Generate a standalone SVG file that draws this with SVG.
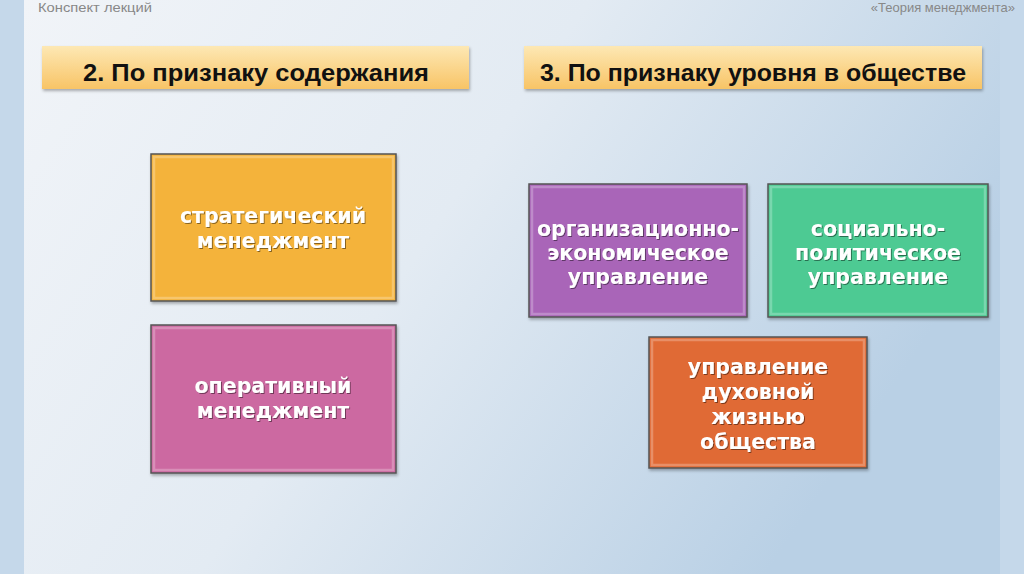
<svg xmlns="http://www.w3.org/2000/svg" width="1024" height="574" viewBox="0 0 1024 574">
<defs>
<linearGradient id="bg" x1="0" y1="0" x2="1" y2="0.4">
<stop offset="0" stop-color="#f1f4f8"/>
<stop offset="0.5" stop-color="#e3ebf3"/>
<stop offset="1" stop-color="#b9d0e5"/>
</linearGradient>
<linearGradient id="hdr" x1="0" y1="0" x2="0" y2="1">
<stop offset="0" stop-color="#fde8b4"/>
<stop offset="1" stop-color="#f8c466"/>
</linearGradient>
<filter id="sh" x="-10%" y="-10%" width="120%" height="130%">
<feDropShadow dx="1" dy="2" stdDeviation="1.5" flood-color="#000" flood-opacity="0.3"/>
</filter>
<filter id="tsh" x="-10%" y="-20%" width="120%" height="150%">
<feDropShadow dx="1" dy="1" stdDeviation="0.6" flood-color="#000" flood-opacity="0.45"/>
</filter>
</defs>
<style>
.box{stroke:#555;stroke-width:1.5;filter:url(#sh)}
.bev{fill:none;stroke:#fff;stroke-opacity:0.25;stroke-width:2.5}
.lbl{font-family:"DejaVu Sans",Verdana,sans-serif;font-weight:bold;font-size:20.5px;fill:#fff;text-anchor:middle;filter:url(#tsh)}
.hd{font-family:"Liberation Sans",Arial,sans-serif;font-weight:bold;font-size:24px;fill:#111;text-anchor:middle}
.top{font-family:"Liberation Sans",Arial,sans-serif;font-size:13px;fill:#888}
</style>
<rect x="0" y="0" width="1024" height="574" fill="#c5d8ea"/>
<rect x="24" y="0" width="976" height="574" fill="url(#bg)"/>
<text class="top" x="38" y="12" textLength="114" lengthAdjust="spacingAndGlyphs">Конспект лекций</text>
<text class="top" x="1015" y="12" text-anchor="end">«Теория менеджмента»</text>
<g id="header1">
<rect x="42" y="46" width="427" height="43" fill="url(#hdr)" filter="url(#sh)"/>
<text class="hd" x="256" y="81" textLength="346" lengthAdjust="spacingAndGlyphs">2. По признаку содержания</text>
</g>
<g id="header2">
<rect x="524" y="46" width="458" height="43" fill="url(#hdr)" filter="url(#sh)"/>
<text class="hd" x="753" y="81" textLength="426" lengthAdjust="spacingAndGlyphs">3. По признаку уровня в обществе</text>
</g>
<g id="strategic">
<rect class="box" x="151" y="154" width="245" height="147" fill="#f4b33a"/>
<rect class="bev" x="154" y="157" width="239" height="141"/>
<text class="lbl" x="273" y="223">стратегический</text>
<text class="lbl" x="273" y="248">менеджмент</text>
</g>
<g id="operative">
<rect class="box" x="151" y="325" width="245" height="148" fill="#cc69a1"/>
<rect class="bev" x="154" y="328" width="239" height="142"/>
<text class="lbl" x="273" y="393">оперативный</text>
<text class="lbl" x="273" y="418">менеджмент</text>
</g>
<g id="org-econ">
<rect class="box" x="529" y="184" width="218" height="133" fill="#a965b8"/>
<rect class="bev" x="532" y="187" width="212" height="127"/>
<text class="lbl" x="638" y="236">организационно-</text>
<text class="lbl" x="638" y="260">экономическое</text>
<text class="lbl" x="638" y="284">управление</text>
</g>
<g id="soc-polit">
<rect class="box" x="768" y="184" width="220" height="133" fill="#4dca93"/>
<rect class="bev" x="771" y="187" width="214" height="127"/>
<text class="lbl" x="878" y="236">социально-</text>
<text class="lbl" x="878" y="260">политическое</text>
<text class="lbl" x="878" y="284">управление</text>
</g>
<g id="spiritual">
<rect class="box" x="649" y="337" width="218" height="131" fill="#e06b34"/>
<rect class="bev" x="652" y="340" width="212" height="125"/>
<text class="lbl" x="758" y="374">управление</text>
<text class="lbl" x="758" y="399">духовной</text>
<text class="lbl" x="758" y="424">жизнью</text>
<text class="lbl" x="758" y="449">общества</text>
</g>
<g id="connectors"></g>
</svg>
